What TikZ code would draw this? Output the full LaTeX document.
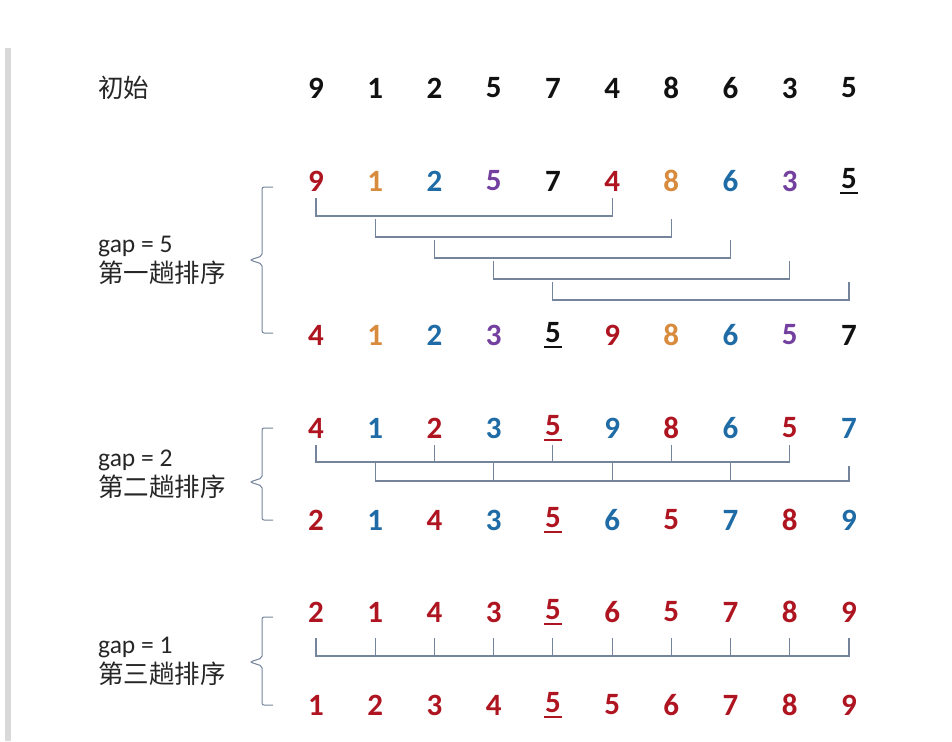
\documentclass[tikz,border=0pt]{standalone}
\usepackage{fontspec}
\setmainfont{Carlito}
\newfontfamily\cjk{Noto Sans CJK SC}
\usepackage{tikz}
\definecolor{shlInk}{HTML}{111111}
\definecolor{shlText}{HTML}{262626}
\definecolor{shlRed}{HTML}{AE1521}
\definecolor{shlOrange}{HTML}{D88B3C}
\definecolor{shlBlue}{HTML}{1F6BA5}
\definecolor{shlPurple}{HTML}{7340A0}
\definecolor{shlLine}{HTML}{74849B}
\definecolor{shlBar}{HTML}{D9D9D9}
\newcommand\ulnum[1]{\setbox0=\hbox{#1}\rlap{\kern-1pt\rule[-6pt]{\dimexpr\wd0+2pt\relax}{2pt}}\box0}
\tikzset{
  shlDigit/.style={inner sep=0pt,font=\fontsize{31}{33}\selectfont\bfseries},
  shlLabel/.style={inner sep=0pt,anchor=west,align=left,text=shlText,
    font=\fontsize{25.5}{30}\selectfont},
  shlLink/.style={draw=shlLine,line width=1.2pt},
  shlBrace/.style={draw=shlLine,line width=1pt,rounded corners=2pt}
}

\begin{document}
\begin{tikzpicture}[x=1pt,y=-1pt]
\useasboundingbox (0,0) rectangle (952,741);
\fill[shlBar] (5,48) rectangle (11,741);

% row labels
\node[shlLabel] (lInit) at (98,88) {\cjk 初始};
\node[shlLabel] (lPass1) at (98,260) {gap = 5\\{\cjk 第一趟排序}};
\node[shlLabel] (lPass2) at (98,474) {gap = 2\\{\cjk 第二趟排序}};
\node[shlLabel] (lPass3) at (98,661) {gap = 1\\{\cjk 第三趟排序}};

% braces
\foreach \t/\m/\b in {187/260/333,428/482/520,617/662/705}
  \draw[shlBrace] (273,\t) -- (262,\t) -- (262,\m-4) -- (250,\m)
    -- (262,\m+4) -- (262,\b) -- (273,\b);

% initial
\foreach \v [count=\i] in {9,1,2,5,7,4,8,6,3,5}
  \node[shlDigit,text=shlInk] (init-\i) at ({316+59.22*(\i-1)},88) {\v};

% gap = 5
\foreach \v/\c [count=\i] in {9/shlRed,1/shlOrange,2/shlBlue,5/shlPurple,7/shlInk,
    4/shlRed,8/shlOrange,6/shlBlue,3/shlPurple,\ulnum{5}/shlInk}
  \node[shlDigit,text=\c] (p1t-\i) at ({316+59.22*(\i-1)},181) {\v};
\foreach \v/\c [count=\i] in {4/shlRed,1/shlOrange,2/shlBlue,3/shlPurple,\ulnum{5}/shlInk,
    9/shlRed,8/shlOrange,6/shlBlue,5/shlPurple,7/shlInk}
  \node[shlDigit,text=\c] (p1b-\i) at ({316+59.22*(\i-1)},335) {\v};
\foreach \i in {1,...,5} {
  \pgfmathtruncatemacro\j{\i+5}
  \pgfmathsetmacro\ya{198+21*(\i-1)}
  \pgfmathsetmacro\yb{\ya+18}
  \draw[shlLink] (p1t-\i |- 0,\ya) -- (p1t-\i |- 0,\yb)
    -- (p1t-\j |- 0,\yb) -- (p1t-\j |- 0,\ya);
}

% gap = 2
\foreach \v/\c [count=\i] in {4/shlRed,1/shlBlue,2/shlRed,3/shlBlue,\ulnum{5}/shlRed,
    9/shlBlue,8/shlRed,6/shlBlue,5/shlRed,7/shlBlue}
  \node[shlDigit,text=\c] (p2t-\i) at ({316+59.22*(\i-1)},428) {\v};
\foreach \v/\c [count=\i] in {2/shlRed,1/shlBlue,4/shlRed,3/shlBlue,\ulnum{5}/shlRed,
    6/shlBlue,5/shlRed,7/shlBlue,8/shlRed,9/shlBlue}
  \node[shlDigit,text=\c] (p2b-\i) at ({316+59.22*(\i-1)},520) {\v};
\draw[shlLink] (p2t-1 |- 0,445) -- (p2t-1 |- 0,462) -- (p2t-9 |- 0,462) -- (p2t-9 |- 0,445);
\foreach \i in {3,5,7}
  \draw[shlLink] (p2t-\i |- 0,445) -- (p2t-\i |- 0,462);
\draw[shlLink] (p2t-2 |- 0,462) -- (p2t-2 |- 0,481) -- (p2t-10 |- 0,481) -- (p2t-10 |- 0,466);
\foreach \i in {4,6,8}
  \draw[shlLink] (p2t-\i |- 0,462) -- (p2t-\i |- 0,481);

% gap = 1
\foreach \v [count=\i] in {2,1,4,3,\ulnum{5},6,5,7,8,9}
  \node[shlDigit,text=shlRed] (p3t-\i) at ({316+59.22*(\i-1)},612) {\v};
\foreach \v [count=\i] in {1,2,3,4,\ulnum{5},5,6,7,8,9}
  \node[shlDigit,text=shlRed] (p3b-\i) at ({316+59.22*(\i-1)},705) {\v};
\draw[shlLink] (p3t-1 |- 0,638) -- (p3t-1 |- 0,656) -- (p3t-10 |- 0,656) -- (p3t-10 |- 0,638);
\foreach \i in {2,...,9}
  \draw[shlLink] (p3t-\i |- 0,638) -- (p3t-\i |- 0,656);
\end{tikzpicture}
\end{document}
